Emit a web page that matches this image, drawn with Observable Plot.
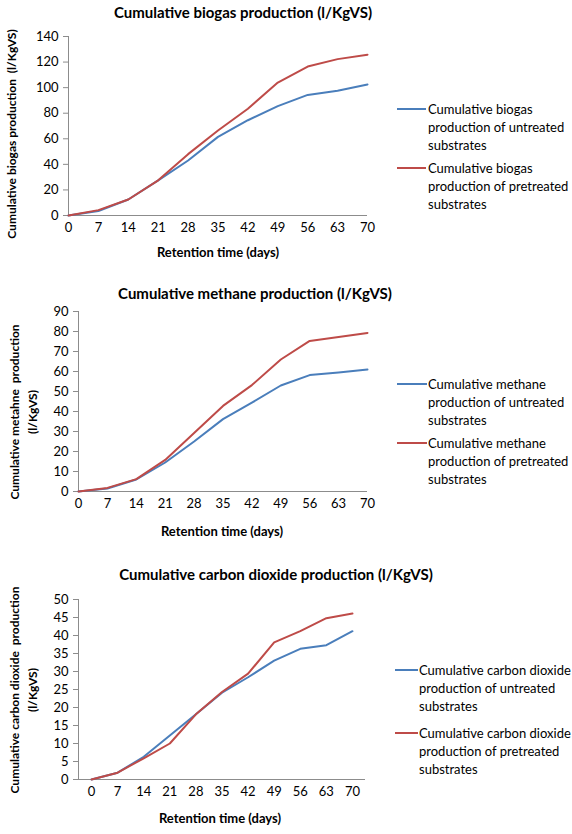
<!DOCTYPE html>
<html>
<head>
<meta charset="utf-8">
<script src="https://cdn.jsdelivr.net/npm/d3@7"></script>
<script src="https://cdn.jsdelivr.net/npm/@observablehq/plot@0.6"></script>
<style>
  html, body { margin: 0; padding: 0; background: #fff; }
  #root { position: relative; width: 572px; height: 834px; overflow: hidden; font-family: Lato, "Open Sans", sans-serif; color: #000; }
  .abs { position: absolute; }
  .title { font-weight: bold; font-size: 15px; white-space: nowrap; transform: translate(-50%, -50%); }
  .xlab { font-weight: bold; font-size: 13px; white-space: nowrap; transform: translate(-50%, -50%); }
  .ylab { font-weight: bold; font-size: 12px; white-space: pre; text-align: center; line-height: 18px; transform: translate(-50%, -50%) rotate(-90deg); }
  .leg { font-size: 13px; line-height: 18px; white-space: pre; }
  .legline { height: 0; border-top: 2px solid; }
</style>
</head>
<body>
<div id="root"></div>
<script>
// ---- data ----
const days = [0, 7, 14, 21, 28, 35, 42, 49, 56, 63, 70];
const seriesNames = ["untreated", "pretreated"];
const seriesColors = ["#4a7ebb", "#be4b48"];

const biogasUntreated  = [0, 3.5, 12.5, 27.5, 43, 61.5, 74.5, 85.5, 94.3, 97.5, 102.5];
const biogasPretreated = [0, 4.2, 12.5, 27.5, 48, 66.5, 83.5, 104, 116.5, 122.3, 125.8];

const methaneUntreated  = [0, 1.5, 6, 14.5, 25, 36.2, 44.4, 53, 58.2, 59.5, 61];
const methanePretreated = [0, 1.8, 6.2, 15.8, 29.2, 42.8, 53.2, 66, 75.3, 77.3, 79.3];

const co2Untreated  = [0, 1.9, 6.3, 12.2, 18.1, 24.1, 28.4, 33, 36.3, 37.3, 41.2];
const co2Pretreated = [0, 1.9, 5.9, 10, 18.1, 24.3, 29.4, 38.1, 41.2, 44.8, 46.1];

const ticks1 = [0, 20, 40, 60, 80, 100, 120, 140];
const ticks2 = [0, 10, 20, 30, 40, 50, 60, 70, 80, 90];
const ticks3 = [0, 5, 10, 15, 20, 25, 30, 35, 40, 45, 50];

const xDomainLinear = [0, 70];
const xDomainCategory = [-3.5, 73.5];

const titles = [
  "Cumulative biogas production (l/KgVS)",
  "Cumulative methane production (l/KgVS)",
  "Cumulative carbon dioxide production (l/KgVS)"
];
const yLabels = [
  "Cumulative biogas production  (l/KgVS)",
  "Cumulative metahne  production\n(l/KgVS)",
  "Cumulative carbon dioxide  production\n(l/KgVS)"
];
const xLabel = "Retention time (days)";
const legendLabels = [
  ["Cumulative biogas\nproduction of untreated\nsubstrates", "Cumulative biogas\nproduction of pretreated\nsubstrates"],
  ["Cumulative methane\nproduction of untreated\nsubstrates", "Cumulative methane\nproduction of pretreated\nsubstrates"],
  ["Cumulative carbon dioxide\nproduction of untreated\nsubstrates", "Cumulative carbon dioxide\nproduction of pretreated\nsubstrates"]
];

function toRows(u, p) {
  const rows = [];
  days.forEach((d, i) => rows.push({day: d, value: u[i], series: seriesNames[0]}));
  days.forEach((d, i) => rows.push({day: d, value: p[i], series: seriesNames[1]}));
  return rows;
}

// ---- layout config ----
const charts = [
  { rows: toRows(biogasUntreated, biogasPretreated), yTicks: ticks1, xDomain: xDomainLinear,
    top: 0, height: 262, mt: 36, mb: 47, ml: 68, mr: 13,
    title: [243, 12], ylab: [12, 134], xlab: [218, 252],
    leg: { lineX: 397, lineW: 29, textX: 428, tops: [100, 159] } },
  { rows: toRows(methaneUntreated, methanePretreated), yTicks: ticks2, xDomain: xDomainLinear,
    top: 280, height: 262, mt: 31, mb: 51, ml: 78, mr: 13,
    title: [255, 293], ylab: [24, 412], xlab: [222, 531],
    leg: { lineX: 397, lineW: 30, textX: 428, tops: [375, 434] } },
  { rows: toRows(co2Untreated, co2Pretreated), yTicks: ticks3, xDomain: xDomainCategory,
    top: 560, height: 274, mt: 39, mb: 55, ml: 78, mr: 15,
    title: [276, 574], ylab: [24, 690], xlab: [220, 818],
    leg: { lineX: 395, lineW: 23, textX: 419, tops: [661, 724] } }
];

const root = document.getElementById("root");
const axisGrey = "#8c8c8c";

charts.forEach((c, k) => {
  const yMax = c.yTicks[c.yTicks.length - 1];
  const svg = Plot.plot({
    width: 380,
    height: c.height,
    marginTop: c.mt, marginBottom: c.mb, marginLeft: c.ml, marginRight: c.mr,
    style: { fontFamily: "Lato, 'Open Sans', sans-serif", fontSize: "13px", background: "transparent", overflow: "visible", color: "#000" },
    x: { domain: c.xDomain, label: null },
    y: { domain: [0, yMax], label: null },
    color: { domain: seriesNames, range: seriesColors },
    marks: [
      Plot.axisY({ ticks: c.yTicks, tickSize: 5, tickPadding: 5, stroke: axisGrey, fill: "#000", label: null }),
      Plot.axisX({ ticks: days, tickSize: 0, tickPadding: 7, fill: "#000", label: null }),
      Plot.ruleY([0], { stroke: axisGrey }),
      Plot.ruleX([c.xDomain[0]], { stroke: axisGrey }),
      Plot.line(c.rows, { x: "day", y: "value", z: "series", stroke: "series", strokeWidth: 2 })
    ]
  });
  svg.style.position = "absolute";
  svg.style.left = "0px";
  svg.style.top = c.top + "px";
  root.appendChild(svg);

  const t = document.createElement("div");
  t.className = "abs title";
  t.style.left = c.title[0] + "px"; t.style.top = c.title[1] + "px";
  t.textContent = titles[k];
  root.appendChild(t);

  const yl = document.createElement("div");
  yl.className = "abs ylab";
  yl.style.left = c.ylab[0] + "px"; yl.style.top = c.ylab[1] + "px";
  yl.textContent = yLabels[k];
  root.appendChild(yl);

  const xl = document.createElement("div");
  xl.className = "abs xlab";
  xl.style.left = c.xlab[0] + "px"; xl.style.top = c.xlab[1] + "px";
  xl.textContent = xLabel;
  root.appendChild(xl);

  seriesNames.forEach((s, i) => {
    const ln = document.createElement("div");
    ln.className = "abs legline";
    ln.style.left = c.leg.lineX + "px";
    ln.style.top = (c.leg.tops[i] + 8) + "px";
    ln.style.width = c.leg.lineW + "px";
    ln.style.borderColor = seriesColors[i];
    root.appendChild(ln);
    const tx = document.createElement("div");
    tx.className = "abs leg";
    tx.style.left = c.leg.textX + "px";
    tx.style.top = c.leg.tops[i] + "px";
    tx.textContent = legendLabels[k][i];
    root.appendChild(tx);
  });
});
</script>
</body>
</html>
